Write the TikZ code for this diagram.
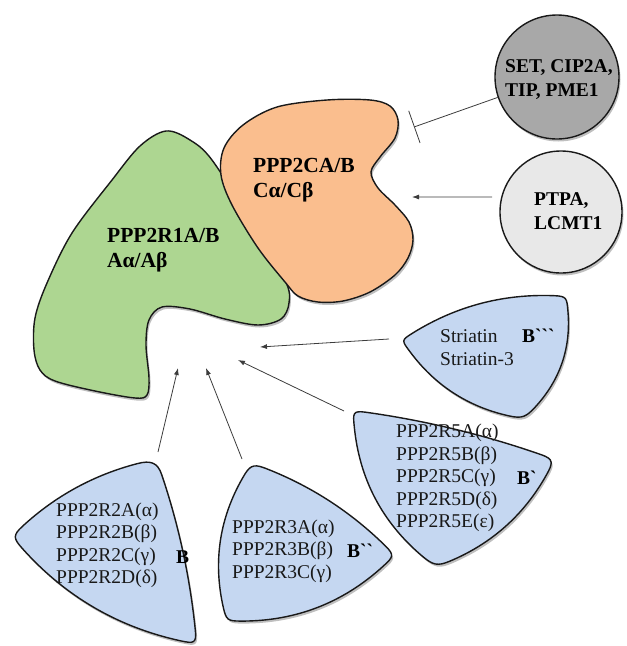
\documentclass[tikz,border=0pt]{standalone}
\usepackage{fontspec}
\setmainfont{Liberation Serif}[Ligatures=TeXOff]
\usetikzlibrary{calc,arrows.meta,shadows}

\definecolor{blueF}{RGB}{197,215,241}
\definecolor{greenF}{RGB}{173,214,145}
\definecolor{orangeF}{RGB}{250,190,142}
\definecolor{grayF}{RGB}{168,168,168}
\definecolor{lightF}{RGB}{232,232,232}
\definecolor{lineC}{RGB}{60,60,60}
\definecolor{edgeC}{RGB}{25,25,25}

\tikzset{
  shapeline/.style={draw=edgeC, line width=1.4pt, line join=round,
    drop shadow={shadow xshift=1.5pt, shadow yshift=-2.5pt, opacity=0.5}},
  greenshape/.style={shapeline, fill=greenF},
  orangeshape/.style={shapeline, fill=orangeF},
  blueshape/.style={shapeline, fill=blueF},
  circshape/.style={circle, shapeline, inner sep=0pt},
  conn/.style={draw=lineC, line width=0.8pt},
  arr/.style={conn, -{Latex[length=7pt,width=5pt]}},
  inh/.style={conn, -{Bar[width=34pt]}},
  lbl/.style={font=\fontsize{19.5}{22.5}\selectfont, align=left, inner sep=0pt, anchor=west, text=black!90},
  blbl/.style={font=\fontsize{19.5}{22.5}\selectfont\bfseries, inner sep=0pt, anchor=west},
  title/.style={font=\fontsize{21.5}{25}\selectfont\bfseries, align=left, inner sep=0pt, anchor=west},
  ctext/.style={font=\fontsize{19.5}{24}\selectfont\bfseries, align=left, inner sep=0pt, anchor=west},
}

\newcommand\pickd{22pt}
\newcommand\pickk{13pt}
% one bulged edge: #1 name, #2 from, #3 to, #4 control offset
\newcommand\pickedge[4]{%
  \coordinate (#1A) at ($(#2)!\pickd!(#3)$);
  \coordinate (#1B) at ($(#3)!\pickd!(#2)$);
  \coordinate (#1C) at ($(#1A)!1/3!(#1B)!#4!90:(#1B)$);
  \coordinate (#1D) at ($(#1A)!2/3!(#1B)!#4!90:(#1B)$);
}
% #1 prefix, #2 #3 #4 vertices (clockwise), #5 #6 #7 edge offsets, #8 style
\newcommand\pickshape[8]{%
  \pickedge{#1x}{#2}{#3}{#5}%
  \pickedge{#1y}{#3}{#4}{#6}%
  \pickedge{#1z}{#4}{#2}{#7}%
  \path[#8] (#1xA) .. controls (#1xC) and (#1xD) .. (#1xB)
     .. controls ($(#1xB)!-\pickk!(#1xD)$) and ($(#1yA)!-\pickk!(#1yC)$) .. (#1yA)
     .. controls (#1yC) and (#1yD) .. (#1yB)
     .. controls ($(#1yB)!-\pickk!(#1yD)$) and ($(#1zA)!-\pickk!(#1zC)$) .. (#1zA)
     .. controls (#1zC) and (#1zD) .. (#1zB)
     .. controls ($(#1zB)!-\pickk!(#1zD)$) and ($(#1xA)!-\pickk!(#1xC)$) .. (#1xA) -- cycle;
}

\begin{document}
\begin{tikzpicture}[x=1pt,y=-1pt]
\useasboundingbox (0,0) rectangle (627,646);

% PPP2R1A/B (green)
\path[greenshape] plot[smooth cycle, tension=0.55] coordinates {
  (166,131) (140,146) (112,180) (72,233) (47,283) (35,318) (34,350) (40,370) (55,381)
  (95,391) (135,398) (147,395) (149,378) (146,345) (149,320) (162,307) (190,309)
  (225,319) (258,325) (281,319) (289,303) (285,280) (250,220) (212,160) (190,140)};

% PPP2CA/B (orange)
\path[orangeshape] plot[smooth cycle, tension=0.55] coordinates {
  (221,175) (224,148) (243,125) (277,107) (327,100) (370,100) (390,106) (398,120)
  (395,138) (380,157) (371,172) (378,188) (395,205) (409,222) (413,240) (408,258)
  (395,275) (370,292) (343,301) (318,302) (298,296) (285,282) (258,248) (232,205)};

\node[title] (ttlA) at (107,250) {PPP2R1A/B\\Aα/Aβ};
\node[title] (ttlC) at (253,180) {PPP2CA/B\\Cα/Cβ};

% regulator circles
\node[circshape, fill=grayF, minimum size=124pt] (setc) at (557,77) {};
\node[circshape, fill=lightF, minimum size=122pt] (ptpa) at (561,212) {};
\node[ctext] (settxt) at (505,80) {SET, CIP2A,\\TIP, PME1};
\node[ctext] (ptpatxt) at (534,211) {PTPA,\\LCMT1};

\coordinate (cI) at (414,127);
\coordinate (cA) at (412,197);
\draw[inh] (setc.199) -- (cI);
\draw[arr, shorten <=9pt] (ptpa.166) -- (cA);

% B subunits
\coordinate (bT) at (157,453); \coordinate (bR) at (200,652); \coordinate (bL) at (3,537);
\pickshape{pb}{bT}{bR}{bL}{6pt}{20pt}{11pt}{blueshape}
\coordinate (cT) at (246,456); \coordinate (cR) at (404,558); \coordinate (cL) at (220,629);
\pickshape{pc}{cT}{cR}{cL}{10pt}{20pt}{17pt}{blueshape}
\coordinate (dT) at (344,407); \coordinate (dR) at (563,460); \coordinate (dB) at (433,576);
\pickshape{pd}{dT}{dR}{dB}{6pt}{15pt}{20pt}{blueshape}
\coordinate (eL) at (391,339); \coordinate (eT) at (575,290); \coordinate (eB) at (528,428);
\pickshape{pe}{eL}{eT}{eB}{15pt}{15pt}{15pt}{blueshape}

\node[lbl] (txtE) at (440,347.5) {Striatin\\Striatin-3};
\node[blbl] (lblE) at (522,336) {B```};
\node[lbl] (txtD) at (396,478) {PPP2R5A(α)\\PPP2R5B(β)\\PPP2R5C(γ)\\PPP2R5D(δ)\\PPP2R5E(ε)};
\node[blbl] (lblD) at (517,478) {B`};
\node[lbl] (txtC) at (232,551) {PPP2R3A(α)\\PPP2R3B(β)\\PPP2R3C(γ)};
\node[blbl] (lblC) at (347,551) {B``};
\node[lbl] (txtB) at (56,545.5) {PPP2R2A(α)\\PPP2R2B(β)\\PPP2R2C(γ)\\PPP2R2D(δ)};
\node[blbl] (lblB) at (176,557) {B};

% connectors to the A/C core
\coordinate (sE) at (389,339); \coordinate (gE) at (260,347);
\coordinate (sD) at (344,411); \coordinate (gD) at (238,360);
\coordinate (sC) at (242,459); \coordinate (gC) at (206,368);
\coordinate (sB) at (158,452); \coordinate (gB) at (178,368);
\draw[arr] (sE) -- (gE);
\draw[arr] (sD) -- (gD);
\draw[arr] (sC) -- (gC);
\draw[arr] (sB) -- (gB);
\end{tikzpicture}
\end{document}
